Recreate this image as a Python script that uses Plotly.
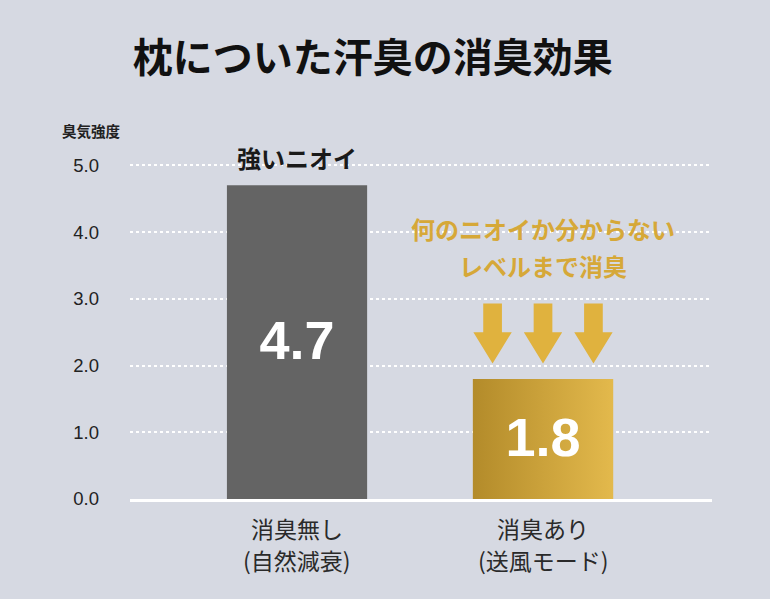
import plotly.graph_objects as go

# data
categories = ["消臭無し", "消臭あり"]
sub_labels = ["(自然減衰)", "(送風モード)"]
values = [4.7, 1.8]
value_labels = ["4.7", "1.8"]
y_ticks = [0, 1, 2, 3, 4, 5]
y_tick_labels = ["0.0", "1.0", "2.0", "3.0", "4.0", "5.0"]

BG = "#d6d9e2"
GRAY = "#646464"
GOLD_DARK = "#b38b2a"
GOLD_LIGHT = "#e3b94c"
ARROW = "#e0b23e"
BAR_W = 0.57
JP = "Noto Sans CJK JP"
LAT = "Liberation Sans, Arial, Noto Sans CJK JP"

xs = list(range(len(categories)))

fig = go.Figure()

# plain bars
fig.add_trace(go.Bar(
    x=xs, y=values, width=BAR_W,
    marker=dict(color=[GRAY, GOLD_LIGHT], line=dict(width=0)),
    hoverinfo="skip", showlegend=False,
))

# gradient overlay for the second bar, built from its value
gx = xs[1]
gv = values[1]
fig.add_trace(go.Scatter(
    x=[gx - BAR_W / 2, gx + BAR_W / 2, gx + BAR_W / 2, gx - BAR_W / 2, gx - BAR_W / 2],
    y=[0, 0, gv, gv, 0],
    mode="lines", fill="toself", line=dict(width=0),
    fillgradient=dict(type="horizontal",
                      colorscale=[[0, GOLD_DARK], [1, GOLD_LIGHT]]),
    hoverinfo="skip", showlegend=False,
))

# value labels in the middle of each bar
fig.add_trace(go.Scatter(
    x=xs, y=[v / 2 - 0.05 for v in values], mode="text",
    text=["<b>%s</b>" % t for t in value_labels],
    textfont=dict(family=LAT, size=54, color="white"),
    hoverinfo="skip", showlegend=False,
))

# three down arrows above the second bar
arrow_cx = [gx - 0.205, gx, gx + 0.205]
top, neck, tip = 2.93, 2.50, 2.03
sw, hw = 0.038, 0.078
for cx in arrow_cx:
    path = (f"M {cx - sw} {top} L {cx + sw} {top} L {cx + sw} {neck} "
            f"L {cx + hw} {neck} L {cx} {tip} L {cx - hw} {neck} "
            f"L {cx - sw} {neck} Z")
    fig.add_shape(type="path", path=path, xref="x", yref="y",
                  fillcolor=ARROW, line=dict(width=0), layer="above")

fig.add_annotation(x=xs[0], y=5.0, xref="x", yref="y", yshift=8,
                   yanchor="middle",
                   text="<b>強いニオイ</b>", showarrow=False,
                   font=dict(family=JP, size=24, color="#1a1a1a"))
fig.add_annotation(x=gx, y=4.06, xref="x", yref="y", yanchor="middle",
                   text="<b>何のニオイか分からない</b>", showarrow=False,
                   font=dict(family=JP, size=24, color="#d6a838"))
fig.add_annotation(x=gx, y=3.50, xref="x", yref="y", yanchor="middle",
                   text="<b>レベルまで消臭</b>", showarrow=False,
                   font=dict(family=JP, size=24, color="#d6a838"))

fig.add_annotation(x=-0.12, y=1.063, xref="paper", yref="paper",
                   xanchor="left", yanchor="middle",
                   text="<b>臭気強度</b>", showarrow=False,
                   font=dict(family=JP, size=14.5, color="#222222"))

for x, s in zip(xs, sub_labels):
    fig.add_annotation(x=x, y=0, xref="x", yref="paper", yshift=-61,
                       yanchor="middle", text=s, showarrow=False,
                       font=dict(family=JP, size=23, color="#2a2a2a"))

fig.update_layout(
    width=770, height=599,
    paper_bgcolor=BG, plot_bgcolor=BG,
    margin=dict(l=130, r=58, t=152, b=100),
    title=dict(text="<b>枕についた汗臭の消臭効果</b>", x=0.484, xanchor="center",
               y=0.903, yanchor="middle",
               font=dict(family=JP, size=40, color="#111111")),
    xaxis=dict(range=[-0.679, 1.687], tickvals=xs, ticktext=categories,
               showgrid=False, zeroline=False, showline=True,
               linecolor="white", linewidth=3,
               ticklabelstandoff=8,
               tickfont=dict(family=JP, size=23, color="#2a2a2a")),
    yaxis=dict(range=[0, 5.2], tickvals=y_ticks, ticktext=y_tick_labels,
               showgrid=True, gridcolor="white", gridwidth=1.5, griddash="dot",
               zeroline=False, ticklabelstandoff=30,
               tickfont=dict(family=LAT, size=18.5, color="#222222")),
)

fig.write_html("out.html", config={"displayModeBar": False},
               post_script="document.body.style.margin='0px';")
